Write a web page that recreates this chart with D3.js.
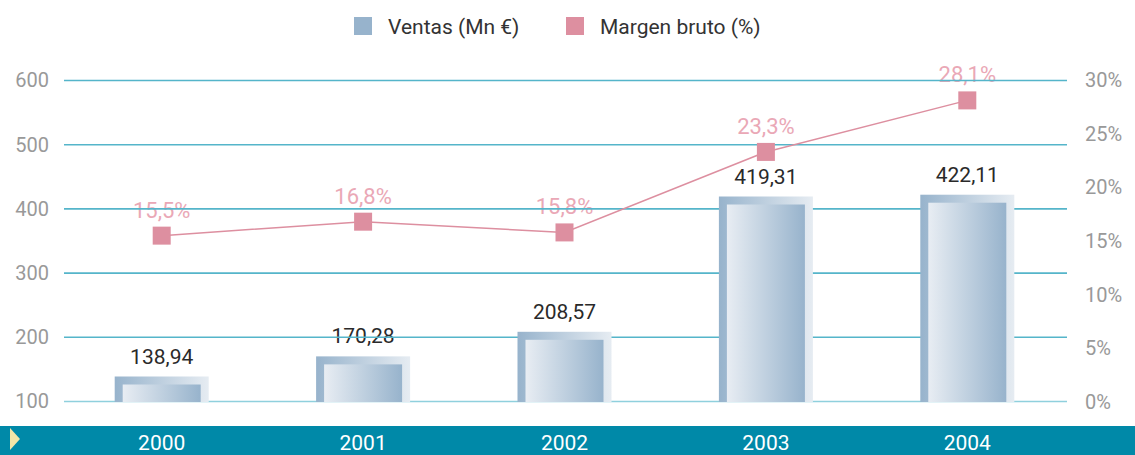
<!DOCTYPE html>
<html>
<head>
<meta charset="utf-8">
<script src="https://cdn.jsdelivr.net/npm/d3@7"></script>
<style>
  html, body { margin: 0; padding: 0; background: #fff; }
  svg { display: block; font-family: Roboto, "Noto Sans", sans-serif; }
</style>
</head>
<body>
<svg id="chart" width="1135" height="455"></svg>
<script>
// Sales (millions of euros) and gross margin (%) by year
const years = ["2000", "2001", "2002", "2003", "2004"];
const ventas = [138.94, 170.28, 208.57, 419.31, 422.11];
const margen = [15.5, 16.8, 15.8, 23.3, 28.1];
const leftTicks = [100, 200, 300, 400, 500, 600];
const rightTicks = [0, 5, 10, 15, 20, 25, 30];
const legendLabels = ["Ventas (Mn €)", "Margen bruto (%)"];

const fmtNum = d3.formatLocale({ decimal: ",", thousands: ".", grouping: [3], currency: ["", "€"] });
const fmt2 = fmtNum.format(".2f");
const fmt1 = fmtNum.format(".1f");

const W = 1135, H = 455;
const svg = d3.select("#chart");
const defs = svg.append("defs");

const x = d3.scaleBand().domain(years).range([61, 1068]).paddingInner(0).paddingOuter(0);
const yL = d3.scaleLinear().domain([100, 600]).range([401.5, 80.5]);
const yR = d3.scaleLinear().domain([0, 30]).range([402, 80]);
const cx = (d, i) => x(years[i]) + x.bandwidth() / 2;

const blue = "#97b3cc", pale = "#e6ecf2", pink = "#dd8fa0";

// gradients for the framed bars
const gOuter = defs.append("linearGradient").attr("id", "gOuter");
gOuter.append("stop").attr("offset", "0%").attr("stop-color", blue);
gOuter.append("stop").attr("offset", "100%").attr("stop-color", pale);
const gInner = defs.append("linearGradient").attr("id", "gInner");
gInner.append("stop").attr("offset", "0%").attr("stop-color", "#e8edf3");
gInner.append("stop").attr("offset", "100%").attr("stop-color", blue);

// legend
const legend = svg.append("g").attr("font-size", 21).attr("fill", "#333");
[[354, blue], [566, pink]].forEach(([lx, c], i) => {
  legend.append("rect").attr("x", lx).attr("y", 17).attr("width", 18).attr("height", 18).attr("fill", c);
  legend.append("text").attr("x", lx + 34).attr("y", 34).text(legendLabels[i]);
});

// value labels sit under the grid lines
svg.append("g").attr("font-size", 22).attr("fill", "#eaa8b6").attr("text-anchor", "middle")
  .selectAll("text").data(margen).join("text")
  .attr("x", cx)
  .attr("y", d => yR(d) - 18)
  .text(d => fmt1(d) + "%");

const bw = 94, inset = 8;
svg.append("g").attr("font-size", 21).attr("fill", "#2a2a2a").attr("text-anchor", "middle")
  .selectAll("text").data(ventas).join("text")
  .attr("x", cx)
  .attr("y", d => yL(d) - 13)
  .text(d => fmt2(d));

// gridlines
svg.append("g").selectAll("line").data(leftTicks).join("line")
  .attr("x1", 64).attr("x2", 1067)
  .attr("y1", d => yL(d)).attr("y2", d => yL(d))
  .attr("stroke", d => d === 100 ? "#8fd0dd" : "#55b5ca")
  .attr("stroke-width", 1.6);

// left axis
const axL = svg.append("g").attr("transform", "translate(49,0)")
  .call(d3.axisLeft(yL).tickValues(leftTicks).tickSize(0).tickPadding(0));
axL.select(".domain").remove();
axL.selectAll("text").attr("font-size", 20).attr("fill", "#999").attr("font-family", "Roboto, sans-serif");

// right axis
const axR = svg.append("g").attr("transform", "translate(1085,0)")
  .call(d3.axisRight(yR).tickValues(rightTicks).tickSize(0).tickPadding(0).tickFormat(d => d + "%"));
axR.select(".domain").remove();
axR.selectAll("text").attr("font-size", 20).attr("fill", "#999").attr("font-family", "Roboto, sans-serif");

// bars: outer frame + inset panel
const bars = svg.append("g").selectAll("g").data(ventas).join("g")
  .attr("transform", (d, i) => `translate(${cx(d, i) - bw / 2},0)`);
bars.append("rect").attr("x", 0).attr("width", bw)
  .attr("y", d => yL(d)).attr("height", d => yL(100) - yL(d) + 0.5)
  .attr("fill", "url(#gOuter)");
bars.append("rect").attr("x", inset).attr("width", bw - 2 * inset)
  .attr("y", d => yL(d) + inset).attr("height", d => Math.max(0, yL(100) - yL(d) - inset + 0.5))
  .attr("fill", "url(#gInner)");

// gross margin line and markers
svg.append("path").datum(margen)
  .attr("fill", "none").attr("stroke", pink).attr("stroke-width", 1.5)
  .attr("d", d3.line().x(cx).y(d => yR(d)));
svg.append("g").selectAll("rect").data(margen).join("rect")
  .attr("x", (d, i) => cx(d, i) - 9).attr("y", d => yR(d) - 9)
  .attr("width", 18).attr("height", 18).attr("fill", pink);

// bottom year band
svg.append("rect").attr("x", 0).attr("y", 426).attr("width", W).attr("height", H - 426).attr("fill", "#0089a8");
svg.append("path").attr("d", "M10,428 L20,439 L10,450 Z").attr("fill", "#f4e6a8");
svg.append("g").selectAll("text").data(years).join("text")
  .attr("x", d => x(d) + x.bandwidth() / 2).attr("y", 450)
  .attr("text-anchor", "middle").attr("font-size", 21).attr("fill", "#fff")
  .text(d => d);
</script>
</body>
</html>
